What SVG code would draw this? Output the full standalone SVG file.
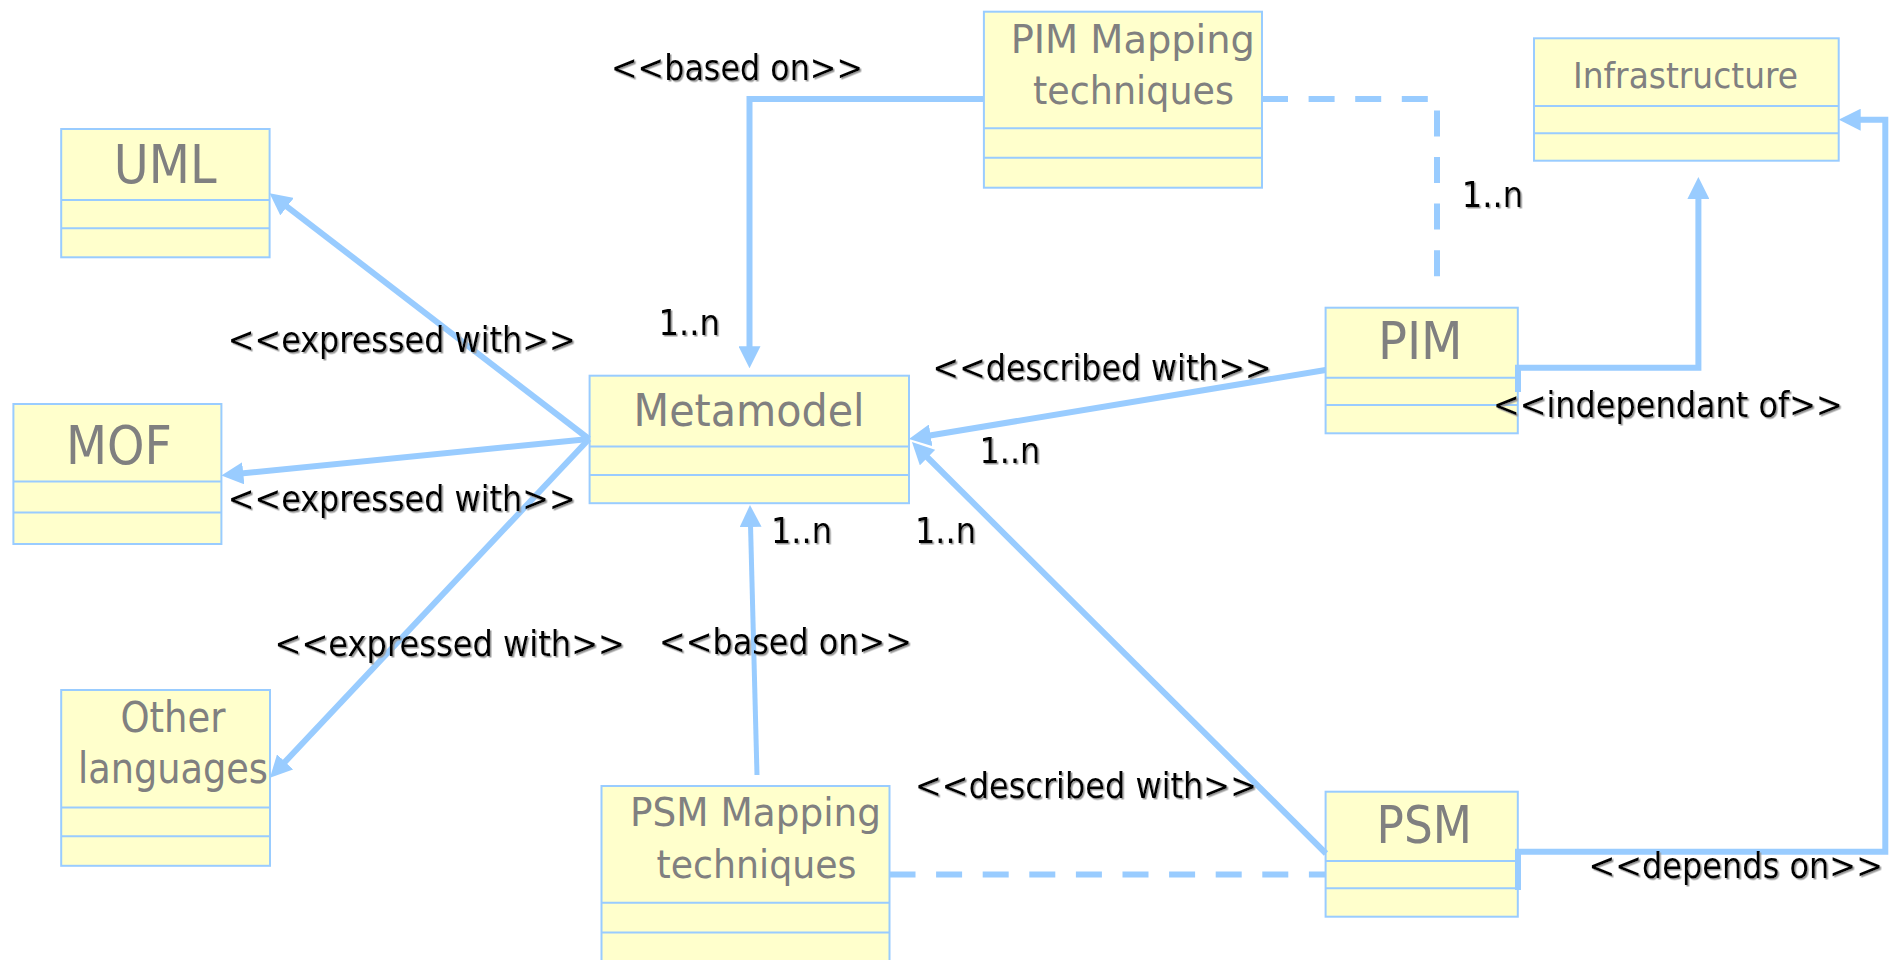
<svg xmlns="http://www.w3.org/2000/svg" width="1901" height="960" viewBox="0 0 1901 960">
  <style>
    .box { fill: #FFFFCC; stroke: #99CCFF; stroke-width: 2; }
    .sep { stroke: #99CCFF; stroke-width: 2; }
    .name { font-family: "DejaVu Sans", "Liberation Sans", sans-serif; fill: #808080; }
    .lbl { font-family: "DejaVu Sans", "Liberation Sans", sans-serif; font-size: 36px; fill: #000; filter: url(#shadow); }
    .conn { fill: none; stroke: #99CCFF; stroke-width: 6; stroke-linejoin: miter; }
    .arr { marker-end: url(#arrow); }
    .dash { fill: none; stroke: #99CCFF; stroke-width: 6; stroke-dasharray: 26 20.6; }
  </style>
  <defs>
    <marker id="arrow" viewBox="0 0 22 22" refX="10" refY="11" markerWidth="22" markerHeight="22" markerUnits="userSpaceOnUse" orient="auto">
      <path d="M0,0 L22,11 L0,22 z" fill="#99CCFF"/>
    </marker>
    <filter id="shadow" x="-5%" y="-20%" width="110%" height="140%">
      <feDropShadow dx="1.5" dy="1.5" stdDeviation="0.7" flood-color="#999999"/>
    </filter>
  </defs>
  <rect width="1901" height="960" fill="#FFFFFF"/>

  <g id="uml">
    <rect class="box" x="61.2" y="129" width="208.4" height="128.3"/>
    <line class="sep" x1="61.2" y1="200" x2="269.6" y2="200"/>
    <line class="sep" x1="61.2" y1="228.3" x2="269.6" y2="228.3"/>
    <text class="name" x="113.8" y="182.7" font-size="53" textLength="102.7" lengthAdjust="spacingAndGlyphs">UML</text>
  </g>

  <g id="mof">
    <rect class="box" x="13.4" y="404" width="208" height="140"/>
    <line class="sep" x1="13.4" y1="481.4" x2="221.4" y2="481.4"/>
    <line class="sep" x1="13.4" y1="512.5" x2="221.4" y2="512.5"/>
    <text class="name" x="66" y="464.4" font-size="53" textLength="106" lengthAdjust="spacingAndGlyphs">MOF</text>
  </g>

  <g id="other-languages">
    <rect class="box" x="61.2" y="690" width="208.8" height="175.8"/>
    <line class="sep" x1="61.2" y1="807.4" x2="270" y2="807.4"/>
    <line class="sep" x1="61.2" y1="836.2" x2="270" y2="836.2"/>
    <text class="name" x="120.5" y="731.5" font-size="42" textLength="105" lengthAdjust="spacingAndGlyphs">Other</text>
    <text class="name" x="78" y="783.3" font-size="42" textLength="190" lengthAdjust="spacingAndGlyphs">languages</text>
  </g>

  <g id="metamodel">
    <rect class="box" x="589.6" y="375.7" width="319.4" height="127.5"/>
    <line class="sep" x1="589.6" y1="446.6" x2="909" y2="446.6"/>
    <line class="sep" x1="589.6" y1="475" x2="909" y2="475"/>
    <text class="name" x="633.6" y="426.3" font-size="45" textLength="231" lengthAdjust="spacingAndGlyphs">Metamodel</text>
  </g>

  <g id="pim-mapping">
    <rect class="box" x="983.9" y="11.7" width="278.1" height="176"/>
    <line class="sep" x1="983.9" y1="128.3" x2="1262" y2="128.3"/>
    <line class="sep" x1="983.9" y1="157.7" x2="1262" y2="157.7"/>
    <text class="name" x="1010.7" y="53.3" font-size="39" textLength="244.2" lengthAdjust="spacingAndGlyphs">PIM Mapping</text>
    <text class="name" x="1033" y="104.3" font-size="39" textLength="201" lengthAdjust="spacingAndGlyphs">techniques</text>
  </g>

  <g id="psm-mapping">
    <rect class="box" x="601.5" y="786" width="288" height="177"/>
    <line class="sep" x1="601.5" y1="902.8" x2="889.5" y2="902.8"/>
    <line class="sep" x1="601.5" y1="932.4" x2="889.5" y2="932.4"/>
    <text class="name" x="630" y="826" font-size="39" textLength="251" lengthAdjust="spacingAndGlyphs">PSM Mapping</text>
    <text class="name" x="656.5" y="877.7" font-size="39" textLength="200" lengthAdjust="spacingAndGlyphs">techniques</text>
  </g>

  <g id="infrastructure">
    <rect class="box" x="1534" y="38.3" width="304.7" height="122.4"/>
    <line class="sep" x1="1534" y1="106" x2="1838.7" y2="106"/>
    <line class="sep" x1="1534" y1="133.3" x2="1838.7" y2="133.3"/>
    <text class="name" x="1573" y="88.3" font-size="36" textLength="225" lengthAdjust="spacingAndGlyphs">Infrastructure</text>
  </g>

  <g id="pim">
    <rect class="box" x="1325.6" y="307.7" width="192.2" height="125.6"/>
    <line class="sep" x1="1325.6" y1="377.7" x2="1517.8" y2="377.7"/>
    <line class="sep" x1="1325.6" y1="405" x2="1517.8" y2="405"/>
    <text class="name" x="1377.9" y="359.3" font-size="52" textLength="84.7" lengthAdjust="spacingAndGlyphs">PIM</text>
  </g>

  <g id="psm">
    <rect class="box" x="1325.6" y="791.7" width="192.2" height="125"/>
    <line class="sep" x1="1325.6" y1="861" x2="1517.8" y2="861"/>
    <line class="sep" x1="1325.6" y1="888.3" x2="1517.8" y2="888.3"/>
    <text class="name" x="1376.6" y="842.7" font-size="52" textLength="95.4" lengthAdjust="spacingAndGlyphs">PSM</text>
  </g>

  <!-- relationships, drawn over the class boxes -->
  <g id="connectors">
    <path class="conn arr" d="M589,439 L279.1,200.6"/>
    <path class="conn arr" d="M589,439 L233.3,474.3"/>
    <path class="conn arr" d="M589,439 L278.2,769.1"/>
    <path class="conn arr" d="M983.9,99 L749.5,99 L749.5,356.3"/>
    <path class="conn arr" d="M1325.6,370 L920.8,437"/>
    <path class="conn arr" d="M1326,853.5 L920.5,450.5"/>
    <path class="conn arr" style="stroke-width:5" d="M757,775 L750.3,517"/>
    <path class="conn arr" d="M1518,392 L1518,367.7 L1698.4,367.7 L1698.4,189"/>
    <path class="conn arr" d="M1518,890 L1518,851.7 L1885.3,851.7 L1885.3,119.7 L1850.7,119.7"/>
    <path class="dash" d="M1262,99 L1437,99 L1437,277"/>
    <path class="dash" d="M889.5,874.5 L1326,874.5"/>
  </g>

  <!-- relationship labels -->
  <g id="labels">
    <text class="lbl" x="611" y="80" textLength="252" lengthAdjust="spacingAndGlyphs">&lt;&lt;based on&gt;&gt;</text>
    <text class="lbl" x="227.7" y="351.7" textLength="348" lengthAdjust="spacingAndGlyphs">&lt;&lt;expressed with&gt;&gt;</text>
    <text class="lbl" x="658.4" y="335" textLength="61.5" lengthAdjust="spacingAndGlyphs">1..n</text>
    <text class="lbl" x="932.6" y="380" textLength="339" lengthAdjust="spacingAndGlyphs">&lt;&lt;described with&gt;&gt;</text>
    <text class="lbl" x="1461.8" y="206.7" textLength="61.5" lengthAdjust="spacingAndGlyphs">1..n</text>
    <text class="lbl" x="1492.9" y="416.7" textLength="350" lengthAdjust="spacingAndGlyphs">&lt;&lt;independant of&gt;&gt;</text>
    <text class="lbl" x="227.7" y="511.4" textLength="348" lengthAdjust="spacingAndGlyphs">&lt;&lt;expressed with&gt;&gt;</text>
    <text class="lbl" x="979.4" y="463.3" textLength="61" lengthAdjust="spacingAndGlyphs">1..n</text>
    <text class="lbl" x="771" y="542.8" textLength="61" lengthAdjust="spacingAndGlyphs">1..n</text>
    <text class="lbl" x="915" y="542.8" textLength="61" lengthAdjust="spacingAndGlyphs">1..n</text>
    <text class="lbl" x="274.5" y="655.7" textLength="350.5" lengthAdjust="spacingAndGlyphs">&lt;&lt;expressed with&gt;&gt;</text>
    <text class="lbl" x="659" y="653.8" textLength="253" lengthAdjust="spacingAndGlyphs">&lt;&lt;based on&gt;&gt;</text>
    <text class="lbl" x="915" y="798" textLength="342" lengthAdjust="spacingAndGlyphs">&lt;&lt;described with&gt;&gt;</text>
    <text class="lbl" x="1588.4" y="878.3" textLength="294.6" lengthAdjust="spacingAndGlyphs">&lt;&lt;depends on&gt;&gt;</text>
  </g>
</svg>
